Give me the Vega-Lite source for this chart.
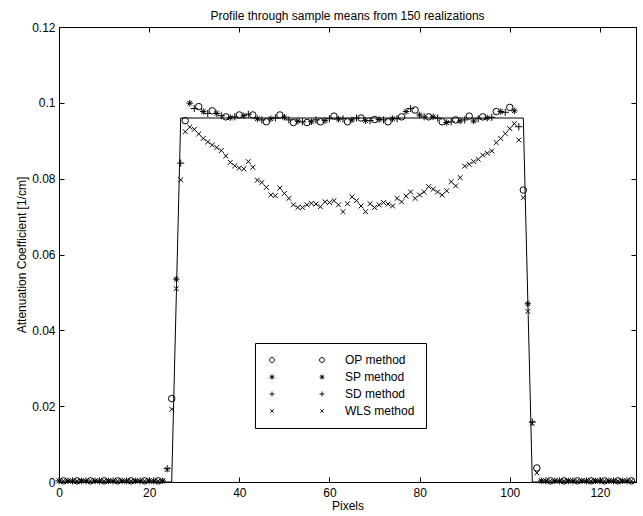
{
  "$schema": "https://vega.github.io/schema/vega-lite/v6.json",
  "width": 577,
  "height": 455,
  "autosize": {"type": "none"},
  "padding": {"left": 59, "top": 27, "right": 7, "bottom": 34},
  "title": {"text": "Profile through sample means from 150 realizations", "font": "Liberation Sans", "fontSize": 12, "fontWeight": "normal", "color": "black", "anchor": "middle", "frame": "group", "offset": -2},
  "config": {
    "view": {"stroke": "black", "strokeWidth": 1},
    "font": "Liberation Sans",
    "axis": {"domainColor": "black", "tickColor": "black", "labelColor": "black", "titleColor": "black", "grid": false, "tickSize": -5, "labelFont": "Liberation Sans", "labelFontSize": 12, "titleFont": "Liberation Sans", "titleFontSize": 12, "titleFontWeight": "normal", "labelOverlap": false, "labelFlush": false}
  },
  "datasets": {
    "truth": [
      {"px": 0, "v": 0}, {"px": 25, "v": 0}, {"px": 27, "v": 0.096}, {"px": 103, "v": 0.096}, {"px": 105, "v": 0}, {"px": 128, "v": 0}
    ],
    "points": [
      {"px":1,"v":0.0003,"m":"OP method"},{"px":4,"v":0.0003,"m":"OP method"},{"px":7,"v":0.0003,"m":"OP method"},{"px":10,"v":0.0003,"m":"OP method"},{"px":13,"v":0.0003,"m":"OP method"},{"px":16,"v":0.0003,"m":"OP method"},{"px":19,"v":0.0003,"m":"OP method"},{"px":22,"v":0.0003,"m":"OP method"},{"px":25,"v":0.022,"m":"OP method"},{"px":28,"v":0.0953,"m":"OP method"},{"px":31,"v":0.099,"m":"OP method"},{"px":34,"v":0.0979,"m":"OP method"},{"px":37,"v":0.0963,"m":"OP method"},{"px":40,"v":0.0968,"m":"OP method"},{"px":43,"v":0.0968,"m":"OP method"},{"px":46,"v":0.095,"m":"OP method"},{"px":49,"v":0.0968,"m":"OP method"},{"px":52,"v":0.0948,"m":"OP method"},{"px":55,"v":0.0948,"m":"OP method"},{"px":58,"v":0.095,"m":"OP method"},{"px":61,"v":0.0965,"m":"OP method"},{"px":64,"v":0.095,"m":"OP method"},{"px":67,"v":0.096,"m":"OP method"},{"px":70,"v":0.0956,"m":"OP method"},{"px":73,"v":0.095,"m":"OP method"},{"px":76,"v":0.0963,"m":"OP method"},{"px":79,"v":0.0981,"m":"OP method"},{"px":82,"v":0.0963,"m":"OP method"},{"px":85,"v":0.095,"m":"OP method"},{"px":88,"v":0.0955,"m":"OP method"},{"px":91,"v":0.0965,"m":"OP method"},{"px":94,"v":0.0963,"m":"OP method"},{"px":97,"v":0.0977,"m":"OP method"},{"px":100,"v":0.0988,"m":"OP method"},{"px":103,"v":0.077,"m":"OP method"},{"px":106,"v":0.0037,"m":"OP method"},{"px":109,"v":0.0003,"m":"OP method"},{"px":112,"v":0.0003,"m":"OP method"},{"px":115,"v":0.0003,"m":"OP method"},{"px":118,"v":0.0003,"m":"OP method"},{"px":121,"v":0.0003,"m":"OP method"},{"px":124,"v":0.0003,"m":"OP method"},{"px":127,"v":0.0003,"m":"OP method"},
      {"px":2,"v":0.0003,"m":"SP method"},{"px":5,"v":0.0003,"m":"SP method"},{"px":8,"v":0.0003,"m":"SP method"},{"px":11,"v":0.0003,"m":"SP method"},{"px":14,"v":0.0003,"m":"SP method"},{"px":17,"v":0.0003,"m":"SP method"},{"px":20,"v":0.0003,"m":"SP method"},{"px":23,"v":0.0003,"m":"SP method"},{"px":26,"v":0.0535,"m":"SP method"},{"px":29,"v":0.0999,"m":"SP method"},{"px":32,"v":0.0977,"m":"SP method"},{"px":35,"v":0.0972,"m":"SP method"},{"px":38,"v":0.0961,"m":"SP method"},{"px":41,"v":0.0966,"m":"SP method"},{"px":44,"v":0.0958,"m":"SP method"},{"px":47,"v":0.0958,"m":"SP method"},{"px":50,"v":0.0962,"m":"SP method"},{"px":53,"v":0.0952,"m":"SP method"},{"px":56,"v":0.095,"m":"SP method"},{"px":59,"v":0.0953,"m":"SP method"},{"px":62,"v":0.0957,"m":"SP method"},{"px":65,"v":0.0955,"m":"SP method"},{"px":68,"v":0.0953,"m":"SP method"},{"px":71,"v":0.0956,"m":"SP method"},{"px":74,"v":0.0958,"m":"SP method"},{"px":77,"v":0.0977,"m":"SP method"},{"px":80,"v":0.0968,"m":"SP method"},{"px":83,"v":0.0963,"m":"SP method"},{"px":86,"v":0.0948,"m":"SP method"},{"px":89,"v":0.0952,"m":"SP method"},{"px":92,"v":0.0952,"m":"SP method"},{"px":95,"v":0.096,"m":"SP method"},{"px":98,"v":0.0977,"m":"SP method"},{"px":101,"v":0.0979,"m":"SP method"},{"px":104,"v":0.047,"m":"SP method"},{"px":107,"v":0.0003,"m":"SP method"},{"px":110,"v":0.0003,"m":"SP method"},{"px":113,"v":0.0003,"m":"SP method"},{"px":116,"v":0.0003,"m":"SP method"},{"px":119,"v":0.0003,"m":"SP method"},{"px":122,"v":0.0003,"m":"SP method"},{"px":125,"v":0.0003,"m":"SP method"},
      {"px":0,"v":0.0003,"m":"SD method"},{"px":3,"v":0.0003,"m":"SD method"},{"px":6,"v":0.0003,"m":"SD method"},{"px":9,"v":0.0003,"m":"SD method"},{"px":12,"v":0.0003,"m":"SD method"},{"px":15,"v":0.0003,"m":"SD method"},{"px":18,"v":0.0003,"m":"SD method"},{"px":21,"v":0.0003,"m":"SD method"},{"px":24,"v":0.0035,"m":"SD method"},{"px":27,"v":0.0841,"m":"SD method"},{"px":30,"v":0.0985,"m":"SD method"},{"px":33,"v":0.0972,"m":"SD method"},{"px":36,"v":0.0966,"m":"SD method"},{"px":39,"v":0.0963,"m":"SD method"},{"px":42,"v":0.097,"m":"SD method"},{"px":45,"v":0.0955,"m":"SD method"},{"px":48,"v":0.096,"m":"SD method"},{"px":51,"v":0.0955,"m":"SD method"},{"px":54,"v":0.095,"m":"SD method"},{"px":57,"v":0.0955,"m":"SD method"},{"px":60,"v":0.0958,"m":"SD method"},{"px":63,"v":0.0958,"m":"SD method"},{"px":66,"v":0.096,"m":"SD method"},{"px":69,"v":0.0953,"m":"SD method"},{"px":72,"v":0.0955,"m":"SD method"},{"px":75,"v":0.0958,"m":"SD method"},{"px":78,"v":0.0985,"m":"SD method"},{"px":81,"v":0.0963,"m":"SD method"},{"px":84,"v":0.096,"m":"SD method"},{"px":87,"v":0.095,"m":"SD method"},{"px":90,"v":0.0955,"m":"SD method"},{"px":93,"v":0.0958,"m":"SD method"},{"px":96,"v":0.0962,"m":"SD method"},{"px":99,"v":0.0975,"m":"SD method"},{"px":102,"v":0.0937,"m":"SD method"},{"px":105,"v":0.0158,"m":"SD method"},{"px":108,"v":0.0003,"m":"SD method"},{"px":111,"v":0.0003,"m":"SD method"},{"px":114,"v":0.0003,"m":"SD method"},{"px":117,"v":0.0003,"m":"SD method"},{"px":120,"v":0.0003,"m":"SD method"},{"px":123,"v":0.0003,"m":"SD method"},{"px":126,"v":0.0003,"m":"SD method"},
      {"px":0,"v":0.0003,"m":"WLS method"},{"px":1,"v":0.0003,"m":"WLS method"},{"px":2,"v":0.0003,"m":"WLS method"},{"px":3,"v":0.0003,"m":"WLS method"},{"px":4,"v":0.0003,"m":"WLS method"},{"px":5,"v":0.0003,"m":"WLS method"},{"px":6,"v":0.0003,"m":"WLS method"},{"px":7,"v":0.0003,"m":"WLS method"},{"px":8,"v":0.0003,"m":"WLS method"},{"px":9,"v":0.0003,"m":"WLS method"},{"px":10,"v":0.0003,"m":"WLS method"},{"px":11,"v":0.0003,"m":"WLS method"},{"px":12,"v":0.0003,"m":"WLS method"},{"px":13,"v":0.0003,"m":"WLS method"},{"px":14,"v":0.0003,"m":"WLS method"},{"px":15,"v":0.0003,"m":"WLS method"},{"px":16,"v":0.0003,"m":"WLS method"},{"px":17,"v":0.0003,"m":"WLS method"},{"px":18,"v":0.0003,"m":"WLS method"},{"px":19,"v":0.0003,"m":"WLS method"},{"px":20,"v":0.0003,"m":"WLS method"},{"px":21,"v":0.0003,"m":"WLS method"},{"px":22,"v":0.0003,"m":"WLS method"},{"px":23,"v":0.0003,"m":"WLS method"},{"px":24,"v":0.0033,"m":"WLS method"},{"px":25,"v":0.0192,"m":"WLS method"},{"px":26,"v":0.051,"m":"WLS method"},{"px":27,"v":0.0797,"m":"WLS method"},{"px":28,"v":0.0924,"m":"WLS method"},{"px":29,"v":0.0936,"m":"WLS method"},{"px":30,"v":0.093,"m":"WLS method"},{"px":31,"v":0.0918,"m":"WLS method"},{"px":32,"v":0.0906,"m":"WLS method"},{"px":33,"v":0.0897,"m":"WLS method"},{"px":34,"v":0.0889,"m":"WLS method"},{"px":35,"v":0.0882,"m":"WLS method"},{"px":36,"v":0.0874,"m":"WLS method"},{"px":37,"v":0.086,"m":"WLS method"},{"px":38,"v":0.0843,"m":"WLS method"},{"px":39,"v":0.0834,"m":"WLS method"},{"px":40,"v":0.0828,"m":"WLS method"},{"px":41,"v":0.0826,"m":"WLS method"},{"px":42,"v":0.0845,"m":"WLS method"},{"px":43,"v":0.083,"m":"WLS method"},{"px":44,"v":0.0796,"m":"WLS method"},{"px":45,"v":0.079,"m":"WLS method"},{"px":46,"v":0.0777,"m":"WLS method"},{"px":47,"v":0.0757,"m":"WLS method"},{"px":48,"v":0.0755,"m":"WLS method"},{"px":49,"v":0.0775,"m":"WLS method"},{"px":50,"v":0.0761,"m":"WLS method"},{"px":51,"v":0.0748,"m":"WLS method"},{"px":52,"v":0.0731,"m":"WLS method"},{"px":53,"v":0.0724,"m":"WLS method"},{"px":54,"v":0.0724,"m":"WLS method"},{"px":55,"v":0.0731,"m":"WLS method"},{"px":56,"v":0.0735,"m":"WLS method"},{"px":57,"v":0.0733,"m":"WLS method"},{"px":58,"v":0.0726,"m":"WLS method"},{"px":59,"v":0.0739,"m":"WLS method"},{"px":60,"v":0.0737,"m":"WLS method"},{"px":61,"v":0.0742,"m":"WLS method"},{"px":62,"v":0.0731,"m":"WLS method"},{"px":63,"v":0.0713,"m":"WLS method"},{"px":64,"v":0.0734,"m":"WLS method"},{"px":65,"v":0.0752,"m":"WLS method"},{"px":66,"v":0.0742,"m":"WLS method"},{"px":67,"v":0.0728,"m":"WLS method"},{"px":68,"v":0.0713,"m":"WLS method"},{"px":69,"v":0.0734,"m":"WLS method"},{"px":70,"v":0.0724,"m":"WLS method"},{"px":71,"v":0.0731,"m":"WLS method"},{"px":72,"v":0.0737,"m":"WLS method"},{"px":73,"v":0.0733,"m":"WLS method"},{"px":74,"v":0.0728,"m":"WLS method"},{"px":75,"v":0.0748,"m":"WLS method"},{"px":76,"v":0.0739,"m":"WLS method"},{"px":77,"v":0.0754,"m":"WLS method"},{"px":78,"v":0.0765,"m":"WLS method"},{"px":79,"v":0.0748,"m":"WLS method"},{"px":80,"v":0.0757,"m":"WLS method"},{"px":81,"v":0.0765,"m":"WLS method"},{"px":82,"v":0.0779,"m":"WLS method"},{"px":83,"v":0.0772,"m":"WLS method"},{"px":84,"v":0.0765,"m":"WLS method"},{"px":85,"v":0.0757,"m":"WLS method"},{"px":86,"v":0.0768,"m":"WLS method"},{"px":87,"v":0.0792,"m":"WLS method"},{"px":88,"v":0.0781,"m":"WLS method"},{"px":89,"v":0.0803,"m":"WLS method"},{"px":90,"v":0.0833,"m":"WLS method"},{"px":91,"v":0.0838,"m":"WLS method"},{"px":92,"v":0.0845,"m":"WLS method"},{"px":93,"v":0.0851,"m":"WLS method"},{"px":94,"v":0.0862,"m":"WLS method"},{"px":95,"v":0.0867,"m":"WLS method"},{"px":96,"v":0.0873,"m":"WLS method"},{"px":97,"v":0.0895,"m":"WLS method"},{"px":98,"v":0.0906,"m":"WLS method"},{"px":99,"v":0.0919,"m":"WLS method"},{"px":100,"v":0.0932,"m":"WLS method"},{"px":101,"v":0.0945,"m":"WLS method"},{"px":102,"v":0.0902,"m":"WLS method"},{"px":103,"v":0.075,"m":"WLS method"},{"px":104,"v":0.045,"m":"WLS method"},{"px":105,"v":0.0155,"m":"WLS method"},{"px":106,"v":0.0024,"m":"WLS method"},{"px":107,"v":0.0003,"m":"WLS method"},{"px":108,"v":0.0003,"m":"WLS method"},{"px":109,"v":0.0003,"m":"WLS method"},{"px":110,"v":0.0003,"m":"WLS method"},{"px":111,"v":0.0003,"m":"WLS method"},{"px":112,"v":0.0003,"m":"WLS method"},{"px":113,"v":0.0003,"m":"WLS method"},{"px":114,"v":0.0003,"m":"WLS method"},{"px":115,"v":0.0003,"m":"WLS method"},{"px":116,"v":0.0003,"m":"WLS method"},{"px":117,"v":0.0003,"m":"WLS method"},{"px":118,"v":0.0003,"m":"WLS method"},{"px":119,"v":0.0003,"m":"WLS method"},{"px":120,"v":0.0003,"m":"WLS method"},{"px":121,"v":0.0003,"m":"WLS method"},{"px":122,"v":0.0003,"m":"WLS method"},{"px":123,"v":0.0003,"m":"WLS method"},{"px":124,"v":0.0003,"m":"WLS method"},{"px":125,"v":0.0003,"m":"WLS method"},{"px":126,"v":0.0003,"m":"WLS method"},{"px":127,"v":0.0003,"m":"WLS method"}
    ]
  },
  "layer": [
    {
      "data": {"name": "truth"},
      "mark": {"type": "line", "color": "black", "strokeWidth": 1},
      "encoding": {
        "x": {"field": "px", "type": "quantitative", "scale": {"domain": [0, 128], "nice": false, "zero": false},
              "axis": {"orient": "bottom", "values": [0, 20, 40, 60, 80, 100, 120], "format": "d", "title": "Pixels", "labelPadding": 10, "titlePadding": 2}},
        "y": {"field": "v", "type": "quantitative", "scale": {"domain": [0, 0.12], "nice": false},
              "axis": {"orient": "left", "values": [0, 0.02, 0.04, 0.06, 0.08, 0.1, 0.12], "format": ".2~f", "title": "Attenuation Coefficient  [1/cm]", "labelPadding": 9, "titlePadding": 3}}
      }
    },
    {
      "data": {"name": "points"},
      "mark": {"type": "point", "filled": false, "color": "black", "strokeWidth": 1, "size": 42, "opacity": 1},
      "encoding": {
        "x": {"field": "px", "type": "quantitative", "axis": {"orient": "top", "values": [0, 20, 40, 60, 80, 100, 120], "labels": false, "title": null}},
        "y": {"field": "v", "type": "quantitative", "axis": {"orient": "right", "values": [0, 0.02, 0.04, 0.06, 0.08, 0.1, 0.12], "labels": false, "title": null}},
        "shape": {"field": "m", "type": "nominal",
                  "scale": {"domain": ["OP method", "SP method", "SD method", "WLS method"],
                            "range": ["circle", "M-1,0L1,0M0,-1L0,1M-0.7,-0.7L0.7,0.7M-0.7,0.7L0.7,-0.7", "M-1.1,0L1.1,0M0,-1.1L0,1.1", "M-0.75,-0.75L0.75,0.75M-0.75,0.75L0.75,-0.75"]},
                  "legend": null}
      }
    },
    {
      "data": {"name": "points"},
      "mark": {"type": "point", "filled": false, "color": "black", "strokeWidth": 1, "opacity": 0},
      "encoding": {
        "x": {"field": "px", "type": "quantitative", "axis": null},
        "y": {"field": "v", "type": "quantitative", "axis": null},
        "shape": {"field": "m", "type": "nominal",
                  "scale": {"domain": ["OP method", "SP method", "SD method", "WLS method"],
                            "range": ["M-1,0A1,1,0,1,0,1,0A1,1,0,1,0,-1,0M19,0A1,1,0,1,0,21,0A1,1,0,1,0,19,0",
                                      "M-1,0L1,0M0,-1L0,1M-0.7,-0.7L0.7,0.7M-0.7,0.7L0.7,-0.7M19,0L21,0M20,-1L20,1M19.3,-0.7L20.7,0.7M19.3,0.7L20.7,-0.7",
                                      "M-1,0L1,0M0,-1L0,1M19,0L21,0M20,-1L20,1",
                                      "M-0.7,-0.7L0.7,0.7M-0.7,0.7L0.7,-0.7M19.3,-0.7L20.7,0.7M19.3,0.7L20.7,-0.7"]},
                  "legend": {"orient": "none", "legendX": 196, "legendY": 316, "title": null, "strokeColor": "black", "fillColor": "white", "padding": 11, "symbolSize": 25, "symbolStrokeWidth": 0.9, "symbolStrokeColor": "black", "symbolOpacity": 1, "labelFont": "Liberation Sans", "labelFontSize": 12, "labelColor": "black", "labelOffset": 67, "rowPadding": 5}}
      }
    }
  ],
  "resolve": {"scale": {"shape": "independent"}, "axis": {"x": "independent", "y": "independent"}}
}
